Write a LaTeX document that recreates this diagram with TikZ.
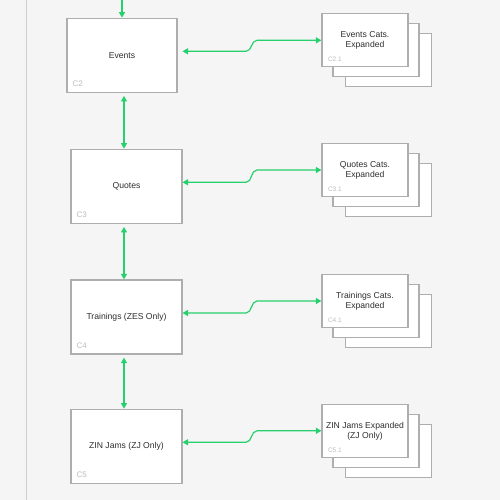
\documentclass[tikz,border=0pt]{standalone}
\usepackage{fontspec}
\setmainfont{Liberation Sans}
\usetikzlibrary{arrows.meta,calc}
\definecolor{bg}{HTML}{F5F5F5}
\definecolor{grn}{RGB}{38,208,108}
\definecolor{bord}{HTML}{AEAEAE}
\definecolor{lblc}{HTML}{BDBDBD}
\definecolor{txt}{HTML}{2E2E2E}
\definecolor{rule}{HTML}{CDCDCD}
\tikzset{
  mainbox/.style={draw=bord, line width=1.3pt, fill=white, minimum width=111pt, minimum height=74pt,
    inner sep=2pt, font=\fontsize{8.6}{10}\selectfont, text=txt, align=center},
  stackbox/.style={draw=bord, line width=1.3pt, fill=white, minimum width=86pt, minimum height=53pt,
    inner sep=2pt, font=\fontsize{8.6}{10}\selectfont, text=txt, align=center},
  lbl/.style={font=\fontsize{8}{9}\selectfont, text=lblc, inner sep=0pt, anchor=base west},
  slbl/.style={font=\fontsize{6.5}{7}\selectfont, text=lblc, inner sep=0pt, anchor=base west},
  conn/.style={draw=grn, line width=1.2pt, {Triangle[length=5.5pt,width=6pt]}-{Triangle[length=5.5pt,width=6pt]}},
  oneway/.style={draw=grn, line width=1.2pt, -{Triangle[length=5.5pt,width=6pt]}},
}
\begin{document}
\begin{tikzpicture}[x=1pt,y=-1pt]
\fill[bg] (0,0) rectangle (500,500);
\useasboundingbox (0,0) rectangle (500,500);
\draw[rule, line width=1.2pt] (26.5,0) -- (26.5,500);

% main boxes
\node[mainbox, minimum width=110pt] (c2) at (122,55.3) {Events};
\node[mainbox] (c3) at (126.5,186.3) {Quotes};
\node[mainbox] (c4) at (126.5,317) {Trainings (ZES Only)};
\node[mainbox] (c5) at (126.5,446.3) {ZIN Jams (ZJ Only)};
\node[lbl] (c2l) at ($(c2.south west)+(6,-6.5)$) {C2};
\node[lbl] (c3l) at ($(c3.south west)+(6,-6.5)$) {C3};
\node[lbl] (c4l) at ($(c4.south west)+(6,-6.5)$) {C4};
\node[lbl] (c5l) at ($(c5.south west)+(6,-6.5)$) {C5};

% stacks
\foreach \n/\y in {c21/40.3, c31/170, c41/301, c51/430.8}{
  \node[stackbox] (\n c) at (388.5,\y+20) {};
  \node[stackbox] (\n b) at (376,\y+10) {};
}
\node[stackbox] (c21) at (365,40.3) {Events Cats.\\Expanded};
\node[stackbox] (c31) at (365,170) {Quotes Cats.\\Expanded};
\node[stackbox] (c41) at (365,301) {Trainings Cats.\\Expanded};
\node[stackbox] (c51) at (365,430.8) {ZIN Jams Expanded\\(ZJ Only)};
\node[slbl] (c21l) at ($(c21.south west)+(6.5,-5.5)$) {C2.1};
\node[slbl] (c31l) at ($(c31.south west)+(6.5,-5.5)$) {C3.1};
\node[slbl] (c41l) at ($(c41.south west)+(6.5,-5.5)$) {C4.1};
\node[slbl] (c51l) at ($(c51.south west)+(6.5,-5.5)$) {C5.1};

% vertical connectors
\coordinate (top) at (122,-2);
\coordinate (vx) at (124,0);
\draw[oneway] (top) -- (c2.north);
\draw[conn, shorten <=3pt] (vx |- c2.south) -- (vx |- c3.north);
\draw[conn, shorten <=3pt] (vx |- c3.south) -- (vx |- c4.north);
\draw[conn, shorten <=3pt] (vx |- c4.south) -- (vx |- c5.north);

% horizontal connectors
\coordinate (k0) at (182.5,0);
\coordinate (k1) at (246,0);
\coordinate (k2) at (257,0);
\foreach \a/\b in {c2/c21, c3/c31, c4/c41, c5/c51}{
  \coordinate (\a p) at ($(k0 |- \a.east)+(0,-4)$);
  \draw[conn] (\a p) -- (k1 |- \a p) to[out=0,in=180] (k2 |- \b.west) -- (\b.west);
}
\end{tikzpicture}
\end{document}
